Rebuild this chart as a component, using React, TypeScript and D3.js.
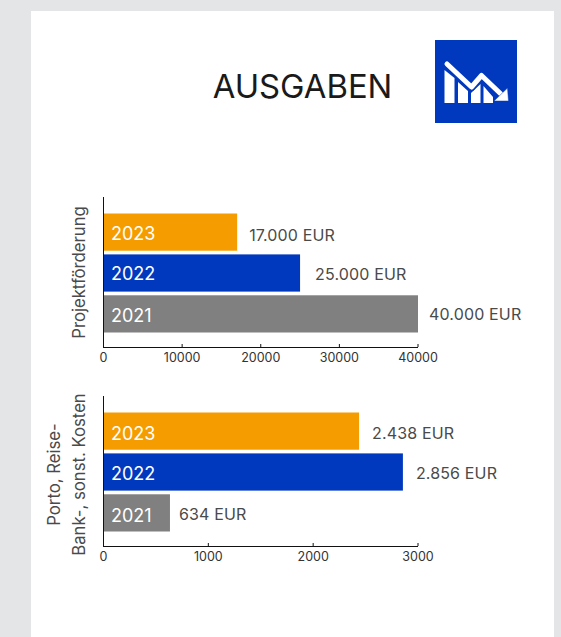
import React from "react";
import * as d3 from "d3";

const years = ["2023", "2022", "2021"];
const colors = ["#f59c00", "#0039bd", "#808080"];
const projektValues = [17000, 25000, 40000];
const projektLabels = ["17.000 EUR", "25.000 EUR", "40.000 EUR"];
const projektTicks = [0, 10000, 20000, 30000, 40000];
const portoValues = [2438, 2856, 634];
const portoLabels = ["2.438 EUR", "2.856 EUR", "634 EUR"];
const portoTicks = [0, 1000, 2000, 3000];

const FONT = "Inter, 'Liberation Sans', sans-serif";

type PanelProps = {
  values: number[];
  labels: string[];
  ticks: number[];
  max: number;
  top: number;
  title: string[];
  titleMid: number;
  labelGap: number[];
  labelDy: number[];
  yearDy: number[];
};

function Panel({ values, labels, ticks, max, top, title, titleMid, labelGap, labelDy, yearDy }: PanelProps) {
  const x = d3.scaleLinear().domain([0, max]).range([103.5, 418]);
  const y = d3.scaleBand<string>().domain(years).range([top + 16.5, top + 135.5]).paddingInner(0.09);
  const bottom = top + 150;
  return (
    <g fontFamily={FONT}>
      {years.map((yr, i) => (
        <g key={yr}>
          <rect x={x(0)} y={y(yr)} width={x(values[i]) - x(0)} height={y.bandwidth()} fill={colors[i]} />
          <text x={111} y={y(yr)! + y.bandwidth() / 2 + 7.5 + yearDy[i]} fontSize={18} fill="#fff">{yr}</text>
          <text x={x(values[i]) + labelGap[i]} y={y(yr)! + y.bandwidth() / 2 + 6.5 + labelDy[i]} fontSize={16} letterSpacing={0.15} fill="#4a4a4a">{labels[i]}</text>
        </g>
      ))}
      <line x1={103.5} x2={103.5} y1={top} y2={bottom} stroke="#111" />
      <line x1={103} x2={418} y1={bottom + 0.5} y2={bottom + 0.5} stroke="#111" />
      {ticks.map((t) => (
        <g key={t}>
          <line x1={x(t)} x2={x(t)} y1={bottom - 3} y2={bottom} stroke="#111" />
          <text x={x(t)} y={bottom + 15} fontSize={12.5} textAnchor="middle" fill="#333">{t}</text>
        </g>
      ))}
      <text transform={`translate(${title.length > 1 ? 60 : 85},${titleMid}) rotate(-90)`} textAnchor="middle" fontSize={16.7} fill="#4a4a4a">
        {title.map((s, i) => (
          <tspan key={s} x={0} dy={i === 0 ? 0 : 25}>{s}</tspan>
        ))}
      </text>
    </g>
  );
}

export default function App() {
  return (
    <svg width={561} height={637} style={{ position: "fixed", left: 0, top: 0 }}>
      <rect width={561} height={637} fill="#e4e5e7" />
      <rect x={31} y={11} width={523} height={626} fill="#fff" />
      <text x={302.5} y={98} textAnchor="middle" fontFamily={FONT} fontSize={32.8} fill="#1a1a1a">AUSGABEN</text>
      <rect x={435} y={40} width={82} height={83} fill="#0039bd" />
      <g>
        <path d="M444.5 70L454.5 78V103H444.5Z M458 82L468 91V103H458Z M471 93L480.500 84V103H471Z M483.500 86L493 97V103H483.500Z" fill="#fff" />
        <path d="M447 64L471.500 87L481.500 75.500L503 96" fill="none" stroke="#0039bd" strokeWidth={8} strokeLinecap="round" strokeLinejoin="round" />
        <path d="M447 64L471.500 87L481.500 75.500L503 96" fill="none" stroke="#fff" strokeWidth={5} strokeLinecap="round" strokeLinejoin="round" />
        <path d="M507.500 88L508.500 101H494Z" fill="#fff" stroke="#0039bd" strokeWidth={0.5} />
      </g>
      <Panel values={projektValues} labels={projektLabels} ticks={projektTicks} max={40000} top={197}
        title={["Projektförderung"]} titleMid={272.5} labelGap={[12, 15, 11]} labelDy={[2.5, 0, 0]} yearDy={[0, -0.5, 1]} />
      <Panel values={portoValues} labels={portoLabels} ticks={portoTicks} max={3000} top={396}
        title={["Porto, Reise-", "Bank-, sonst. Kosten"]} titleMid={474.5} labelGap={[13, 13, 9]} labelDy={[1, 0, 1]} yearDy={[1, 0, 1.5]} />
    </svg>
  );
}
